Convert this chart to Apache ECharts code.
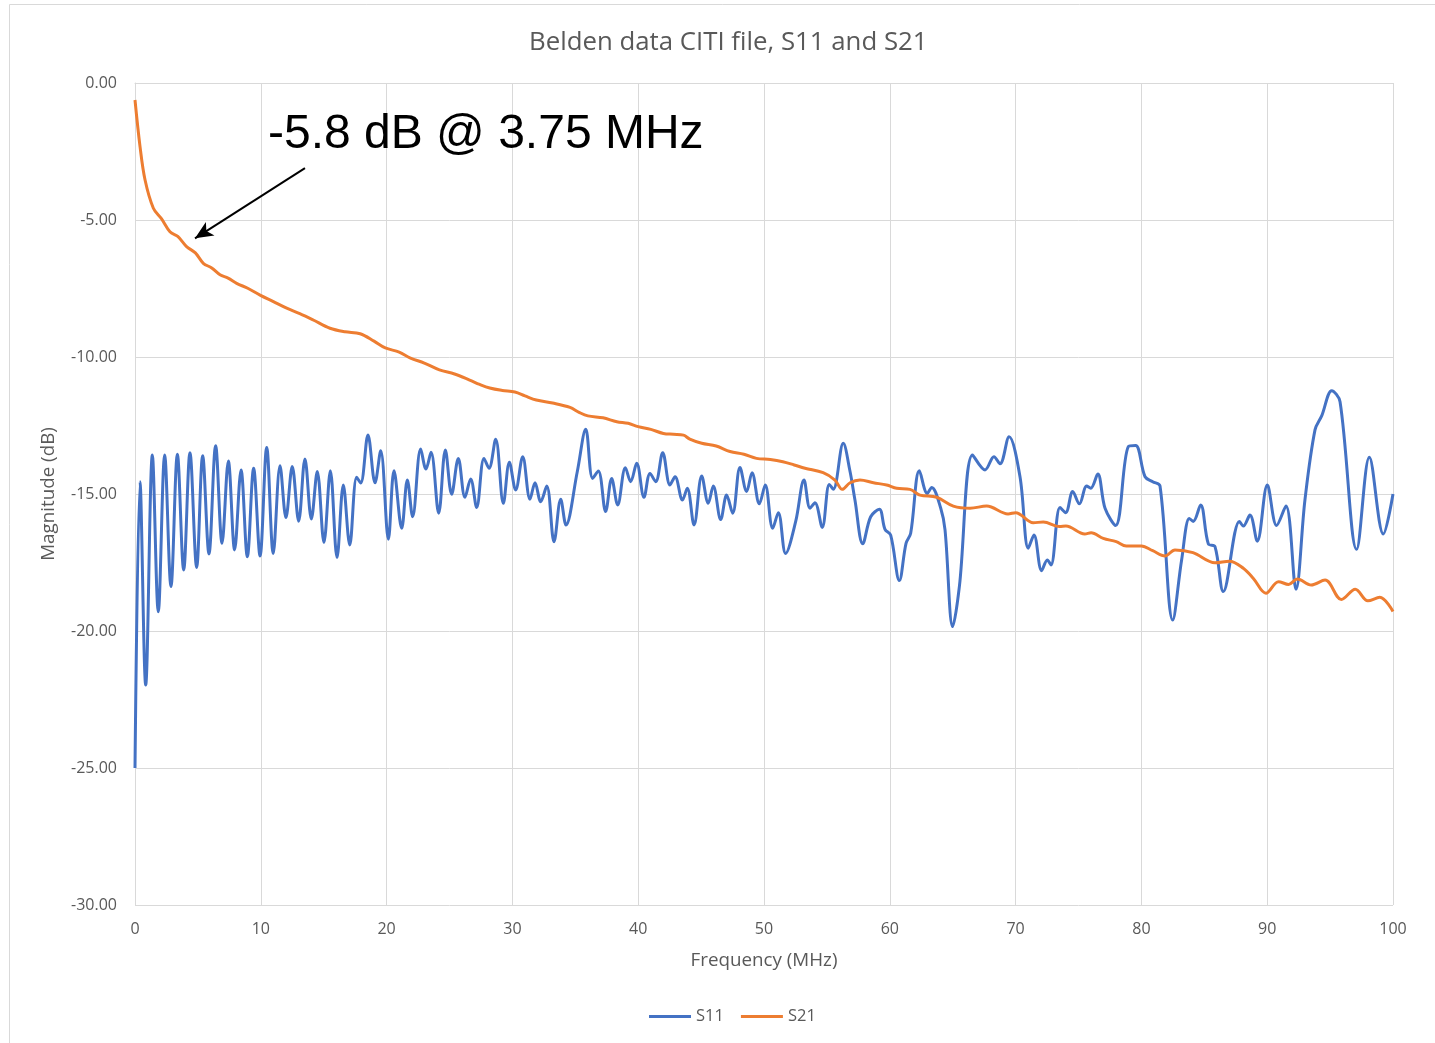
<!DOCTYPE html>
<html>
<head>
<meta charset="utf-8">
<script src="https://cdn.jsdelivr.net/npm/echarts@6/dist/echarts.min.js"></script>
<style>
html,body{margin:0;padding:0;background:#fff;}
#chart{width:1435px;height:1043px;}
</style>
</head>
<body>
<div id="chart"></div>
<script>
// ---- Data ----
const titleText = 'Belden data CITI file, S11 and S21';
const xTicks = [0, 10, 20, 30, 40, 50, 60, 70, 80, 90, 100];
const yTicks = [0, -5, -10, -15, -20, -25, -30];

const s11Freq = [0, 0.4, 0.85, 1.38, 1.85, 2.36, 2.86, 3.37, 3.87, 4.37, 4.9, 5.38, 5.88, 6.41, 6.92, 7.42, 7.92, 8.43, 8.93, 9.43, 9.94,
  10.47, 10.99, 11.53, 12.0, 12.5, 13.01, 13.51, 14.02, 14.49, 15.02, 15.53, 16.06, 16.56, 17.07, 17.62, 17.94, 18.52, 19.08, 19.53, 20.14,
  20.59, 21.2, 21.65, 22.07, 22.71, 23.13, 23.53, 24.14, 24.67, 25.17, 25.7, 26.23, 26.68, 27.16, 27.74, 28.14, 28.67, 29.28, 29.76, 30.26,
  30.82, 31.4, 31.8, 32.25, 32.73, 33.31, 33.84, 34.26, 35.16, 35.83, 36.38, 36.83, 37.41, 37.89, 38.37, 38.98, 39.4, 39.88, 40.46,
  40.94, 41.39, 41.95, 42.53, 42.93, 43.52, 43.9, 44.44, 45.05, 45.57, 45.97, 46.56, 47.03, 47.51, 48.09, 48.62, 49.05, 49.63, 50.1,
  50.69, 51.14, 51.72, 52.52, 53.18, 53.66, 54.05, 54.63, 55.19, 55.51, 56.3, 56.84, 57.23, 57.85, 58.48, 59.17, 59.62, 60.07, 60.76,
  61.29, 61.66, 62.35, 62.98, 63.33, 64.05, 64.39, 65.0, 65.53, 66.58, 67.57, 68.28, 68.76, 69.48, 70.35, 71.01, 71.46, 72.07, 72.52,
  72.81, 73.53, 73.98, 74.54, 75.07, 75.65, 75.97, 76.53, 77.11, 77.95, 78.96, 79.54, 80.29, 80.9, 81.48, 82.49, 83.2, 83.81, 84.12, 84.71,
  85.32, 85.85, 86.51, 87.79, 88.1, 88.63, 89.21, 90.01, 90.75, 91.49, 92.29, 93.0, 93.8, 94.33, 95.13, 95.79, 97.11, 98.12, 99.23, 100];
const s11Mag = [-25.0, -14.55, -21.97, -13.58, -19.3, -13.58, -18.38, -13.55, -17.77, -13.49, -17.68, -13.6, -17.19, -13.24, -16.8, -13.8, -17.04, -14.12, -17.29, -14.06, -17.26,
  -13.3, -17.17, -13.97, -15.86, -14.0, -15.99, -13.72, -15.91, -14.18, -16.77, -14.15, -17.32, -14.67, -16.86, -14.39, -14.6, -12.85, -14.59, -13.42, -16.65,
  -14.15, -16.25, -14.49, -15.83, -13.36, -14.09, -13.48, -15.7, -13.39, -15.01, -13.7, -15.12, -14.45, -15.49, -13.7, -14.06, -13.0, -15.34, -13.84, -14.85,
  -13.64, -15.19, -14.59, -15.28, -14.71, -16.74, -15.19, -16.13, -14.18, -12.64, -14.43, -14.16, -15.64, -14.43, -15.4, -14.04, -14.55, -13.88, -15.12,
  -14.25, -14.55, -13.49, -14.67, -14.37, -15.22, -14.79, -16.13, -14.34, -15.34, -14.71, -15.93, -15.04, -15.7, -14.03, -14.91, -14.22, -15.36, -14.67,
  -16.25, -15.68, -17.17, -16.0, -14.49, -15.52, -15.32, -16.22, -14.65, -14.83, -13.15, -14.18, -15.22, -16.82, -15.83, -15.56, -16.29, -16.5, -18.16,
  -16.8, -16.43, -14.15, -14.98, -14.76, -15.52, -16.31, -19.84, -18.38, -13.58, -14.12, -13.64, -13.9, -12.91, -14.37, -16.98, -16.5, -17.8, -17.41,
  -17.59, -15.49, -15.68, -14.91, -15.36, -14.71, -14.79, -14.27, -15.52, -16.15, -13.27, -13.23, -14.37, -14.55, -14.71, -19.6, -17.4, -15.89, -16.0, -15.4,
  -16.82, -16.92, -18.56, -16.0, -16.17, -15.77, -16.72, -14.67, -16.15, -15.44, -18.48, -15.22, -12.66, -12.15, -11.23, -11.63, -17.02, -13.66, -16.46, -15.0];

const s21Freq = [0, 0.4, 0.8, 1.46, 2.1, 2.78, 3.4, 4.1, 4.8, 5.43, 6.1, 6.76, 7.4, 8.08, 9.0, 9.94, 11.0, 12.06, 13.1, 14.17, 15.5, 16.7, 17.9, 19.0, 19.9,
  21.0, 21.9, 23.0, 24.2, 25.4, 26.6, 27.4, 28.2, 29.2, 30.2, 31.0, 31.9, 33.2, 34.58, 35.3, 36.0, 37.2, 38.3, 39.2, 40.0, 41.0, 42.0, 42.8, 43.6,
  44.1, 45.05, 46.2, 47.3, 48.4, 49.4, 50.5, 51.5, 52.4, 53.26, 54.7, 55.64, 56.22, 56.84, 57.63, 58.7, 59.75, 60.55, 61.6, 62.4, 63.73, 65.05,
  66.38, 67.7, 69.4, 70.0, 71.4, 72.2, 73.5, 74.0, 75.5, 76.0, 76.97, 78.0, 78.8, 80.0, 80.9, 81.88, 82.67, 84.1, 85.85, 87.0, 88.1, 88.9, 89.9,
  90.9, 91.7, 92.4, 93.5, 94.6, 95.9, 97.0, 98.0, 98.95, 100];
const s21Mag = [-0.62, -2.32, -3.54, -4.57, -4.95, -5.43, -5.6, -5.97, -6.2, -6.58, -6.75, -7.0, -7.12, -7.31, -7.5, -7.74, -7.98, -8.22, -8.42, -8.65, -8.95, -9.08, -9.15, -9.42, -9.67,
  -9.82, -10.04, -10.22, -10.47, -10.62, -10.84, -11.0, -11.13, -11.22, -11.28, -11.42, -11.57, -11.68, -11.84, -12.02, -12.15, -12.22, -12.36, -12.42, -12.54, -12.64, -12.79, -12.82, -12.85,
  -13.0, -13.15, -13.25, -13.45, -13.55, -13.7, -13.74, -13.82, -13.94, -14.06, -14.22, -14.49, -14.83, -14.59, -14.49, -14.59, -14.67, -14.79, -14.83, -15.04, -15.12, -15.44,
  -15.52, -15.44, -15.73, -15.68, -16.05, -16.02, -16.19, -16.17, -16.46, -16.41, -16.62, -16.74, -16.9, -16.9, -17.07, -17.26, -17.04, -17.14, -17.51, -17.45, -17.71, -18.08, -18.62,
  -18.2, -18.3, -18.1, -18.32, -18.14, -18.85, -18.48, -18.9, -18.77, -19.29];

const annotationText = '-5.8 dB @ 3.75 MHz';
const arrowFrom = [13.51, -3.11];
const arrowTo = [4.77, -5.67];

// ---- Chart ----
const s11Data = s11Freq.map((f, i) => [f, s11Mag[i]]);
const s21Data = s21Freq.map((f, i) => [f, s21Mag[i]]);

const FONT = 'Open Sans';
const GRAY = '#595959';
const chart = echarts.init(document.getElementById('chart'));
chart.setOption({
  animation: false,
  backgroundColor: '#ffffff',
  title: {
    text: titleText,
    left: 524,
    top: 25,
    textStyle: { fontFamily: FONT, fontSize: 25.8, fontWeight: 'normal', color: GRAY }
  },
  legend: {
    bottom: 13,
    left: 644,
    icon: 'rect',
    itemWidth: 42,
    itemHeight: 3,
    itemGap: 17,
    textStyle: { fontFamily: FONT, fontSize: 16.5, color: GRAY },
    data: ['S11', 'S21']
  },
  grid: { left: 135, right: 42, top: 83, bottom: 138, containLabel: false },
  xAxis: {
    type: 'value',
    min: xTicks[0],
    max: xTicks[xTicks.length - 1],
    interval: 10,
    name: 'Frequency (MHz)',
    nameLocation: 'middle',
    nameGap: 46,
    nameTextStyle: { fontFamily: FONT, fontSize: 18.8, color: GRAY },
    axisLine: { show: true, lineStyle: { color: '#d9d9d9', width: 1 } },
    axisTick: { show: false },
    axisLabel: { fontFamily: FONT, fontSize: 16, color: GRAY, margin: 16 },
    splitLine: { show: true, lineStyle: { color: '#d9d9d9', width: 1 } }
  },
  yAxis: {
    type: 'value',
    min: yTicks[yTicks.length - 1],
    max: yTicks[0],
    interval: 5,
    name: 'Magnitude (dB)',
    nameLocation: 'middle',
    nameGap: 77,
    nameTextStyle: { fontFamily: FONT, fontSize: 18.8, color: GRAY },
    axisLine: { show: true, lineStyle: { color: '#d9d9d9', width: 1 } },
    axisTick: { show: false },
    axisLabel: { fontFamily: FONT, fontSize: 16, color: GRAY, margin: 18, formatter: v => v.toFixed(2) },
    splitLine: { show: true, lineStyle: { color: '#d9d9d9', width: 1 } }
  },
  series: [
    {
      name: 'S11', type: 'line', data: s11Data, smooth: 0.35, showSymbol: false, symbol: 'none',
      lineStyle: { color: '#4472C4', width: 3 }, itemStyle: { color: '#4472C4' }, z: 3
    },
    {
      name: 'S21', type: 'line', data: s21Data, smooth: 0.35, showSymbol: false, symbol: 'none',
      lineStyle: { color: '#ED7D31', width: 3 }, itemStyle: { color: '#ED7D31' }, z: 4,
      markLine: {
        silent: true,
        animation: false,
        symbol: ['none', 'arrow'],
        symbolSize: [12, 18],
        label: { show: false },
        lineStyle: { color: '#000000', width: 2, type: 'solid' },
        data: [[{ coord: arrowFrom }, { coord: arrowTo }]]
      }
    }
  ],
  graphic: [
    { type: 'rect', shape: { x: 9.5, y: 4.5, width: 1440, height: 1060 }, style: { fill: 'none', stroke: '#d9d9d9', lineWidth: 1 }, silent: true, z: -10 },
    { type: 'text', left: 268, top: 111, style: { text: annotationText, fontFamily: 'Liberation Sans, Arial', fontSize: 48, fill: '#000000' }, z: 100 }
  ]
});
</script>
</body>
</html>
